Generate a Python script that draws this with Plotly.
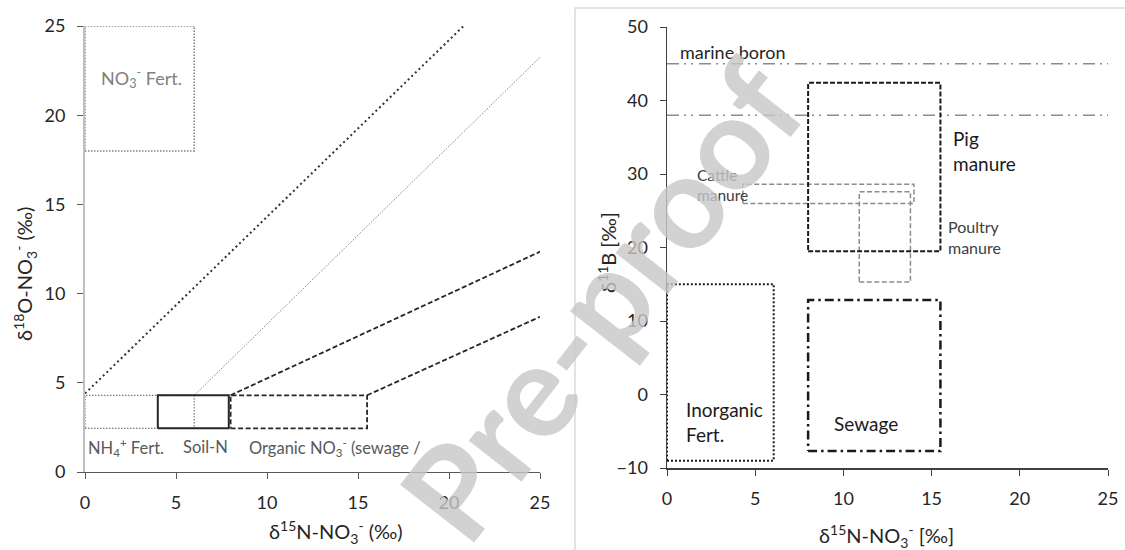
import plotly.graph_objects as go

# ---------------- data ----------------
# Left panel: nitrate source boxes  (d15N range, d18O range)
no3_fert_n = [0, 6];      no3_fert_o = [18, 25]
nh4_fert_n = [0, 6];      nh4_fert_o = [2.45, 4.3]
soil_n_n = [4, 7.9];      soil_n_o = [2.45, 4.3]
organic_n = [8, 15.5];    organic_o = [2.45, 4.3]
# trend lines (start / end points)
line1_n = [0, 20.8];   line1_o = [4.4, 25]
line2_n = [6, 25];     line2_o = [4.3, 23.25]
line3_n = [8, 25];     line3_o = [4.3, 12.35]
line4_n = [15.5, 25];  line4_o = [4.3, 8.7]

# Right panel: boron source boxes (d15N range, d11B range)
marine_boron_b = [45, 38]
marine_boron_n = [0, 25]
pig_n = [8, 15.5];        pig_b = [19.5, 42.4]
cattle_n = [4.3, 14];     cattle_b = [26, 28.6]
poultry_n = [10.9, 13.8]; poultry_b = [15.3, 27.6]
inorg_n = [0, 6.05];      inorg_b = [-9, 15]
sewage_n = [8, 15.5];     sewage_b = [-7.7, 12.85]

left_ticks = [0, 5, 10, 15, 20, 25]
right_xticks = [0, 5, 10, 15, 20, 25]
right_yticks = [-10, 0, 10, 20, 30, 40, 50]

FONT = "Lato"
W, H = 1125, 550


def rect(xr, yr):
    x0, x1 = xr
    y0, y1 = yr
    return [x0, x1, x1, x0, x0], [y0, y0, y1, y1, y0]


fig = go.Figure()


def add_poly(xs, ys, color, width, dash, ax="x", ay="y"):
    fig.add_trace(go.Scatter(x=xs, y=ys, mode="lines", xaxis=ax, yaxis=ay,
                             line=dict(color=color, width=width, dash=dash),
                             hoverinfo="skip", showlegend=False))


# ---- left panel ----
add_poly(*rect(no3_fert_n, no3_fert_o), "#7f7f7f", 1.5, "1.5px,1.5px")
add_poly(*rect(nh4_fert_n, nh4_fert_o), "#7a7a7a", 1.2, "1.5px,1.5px")
add_poly(line1_n, line1_o, "#333333", 2, "2px,3px")
add_poly(line2_n, line2_o, "#666666", 1, "1px,1.5px")
add_poly(line3_n, line3_o, "#262626", 1.8, "5px,2.5px")
add_poly(line4_n, line4_o, "#262626", 1.8, "5px,2.5px")
add_poly(*rect(soil_n_n, soil_n_o), "#262626", 2, "solid")
add_poly(*rect(organic_n, organic_o), "#262626", 1.8, "5px,2.5px")

# ---- right panel ----
for b in marine_boron_b:
    add_poly(marine_boron_n, [b, b], "#8c8c8c", 1.5,
             "12px,5px,2px,5px,2px,6px", "x2", "y2")
add_poly(*rect(cattle_n, cattle_b), "#8c8c8c", 1.5, "5px,2.5px", "x2", "y2")
add_poly(*rect(poultry_n, poultry_b), "#8c8c8c", 1.5, "5px,2.5px", "x2", "y2")
add_poly(*rect(pig_n, pig_b), "#1a1a1a", 2, "5px,2px", "x2", "y2")
add_poly(*rect(inorg_n, inorg_b), "#1a1a1a", 2, "2px,2px", "x2", "y2")
add_poly(*rect(sewage_n, sewage_b), "#1a1a1a", 2.5, "9px,4px,2.5px,4px", "x2", "y2")

tickfont = dict(family=FONT, size=18, color="#262626")

fig.update_layout(
    width=W, height=H,
    margin=dict(l=0, r=0, t=0, b=0),
    paper_bgcolor="white", plot_bgcolor="white",
    font=dict(family=FONT, color="#333333"),
    xaxis=dict(domain=[85 / W, 540 / W], range=[0, 25], tickvals=left_ticks,
               showgrid=False, zeroline=False, showline=True,
               linecolor="#595959", linewidth=1, ticks="outside", ticklen=6,
               tickcolor="#595959", tickfont=tickfont, ticklabelstandoff=8,
               anchor="y", automargin=False, fixedrange=True),
    yaxis=dict(domain=[1 - 472 / H, 1 - 26 / H], range=[0, 25], tickvals=left_ticks,
               showgrid=False, zeroline=False, showline=True,
               linecolor="#bfbfbf", linewidth=2, ticks="outside", ticklen=6,
               tickcolor="#595959", tickfont=tickfont, ticklabelstandoff=8,
               anchor="x", automargin=False, fixedrange=True),
    xaxis2=dict(domain=[667 / W, 1108 / W], range=[0, 25], tickvals=right_xticks,
                showgrid=False, zeroline=False, showline=True,
                linecolor="#404040", linewidth=1.5, ticks="outside", ticklen=6,
                tickcolor="#404040", tickfont=tickfont, ticklabelstandoff=8,
                anchor="y2", automargin=False, fixedrange=True),
    yaxis2=dict(domain=[1 - 468 / H, 1 - 27 / H], range=[-10, 50], tickvals=right_yticks,
                showgrid=False, zeroline=False, showline=True,
                linecolor="#404040", linewidth=1.5, ticks="outside", ticklen=6,
                tickcolor="#404040", tickfont=tickfont, ticklabelstandoff=8,
                anchor="x2", automargin=False, fixedrange=True),
)

# frame around right panel
fig.add_shape(type="rect", xref="paper", yref="paper",
              x0=575 / W, x1=1.02, y0=-0.02, y1=1 - 8 / H,
              line=dict(color="#dadada", width=1.5), layer="below")


def label(text, x, y, size, color, ax="x", ay="y", anchor="left"):
    fig.add_annotation(text=text, x=x, y=y, xref=ax, yref=ay, showarrow=False,
                       xanchor=anchor, yanchor="middle", align="left",
                       font=dict(family=FONT, size=size, color=color))


# left labels
label("NO<sub>3</sub><sup>-</sup> Fert.", 0.75, 22.1, 18, "#808080")
label("NH<sub>4</sub><sup>+</sup> Fert.", 0.05, 1.4, 16.5, "#595959")
label("Soil-N", 5.3, 1.4, 16.5, "#595959")
label("Organic NO<sub>3</sub><sup>-</sup> (sewage /", 8.9, 1.4, 16.5, "#595959")

# right labels
label("marine boron", 0.65, 46.6, 18, "#262626", "x2", "y2")
label("Pig<br>manure", 16.1, 33.1, 19, "#1a1a1a", "x2", "y2")
label("Cattle<br>manure", 1.6, 28.55, 15.5, "#404040", "x2", "y2")
label("Poultry<br>manure", 15.8, 21.4, 16, "#404040", "x2", "y2")
label("Inorganic<br>Fert.", 0.95, -3.8, 19, "#1a1a1a", "x2", "y2")
label("Sewage", 9.35, -3.9, 19, "#1a1a1a", "x2", "y2")


# axis titles
def title(text, x, y, angle=0):
    fig.add_annotation(text=text, x=x, y=y, xref="paper", yref="paper",
                       showarrow=False, xanchor="center", yanchor="middle",
                       textangle=angle,
                       font=dict(family=FONT, size=20, color="#262626"))


title("δ<sup>15</sup>N-NO<sub>3</sub><sup>-</sup> (‰)", 336 / W, 1 - 532 / H)
title("δ<sup>18</sup>O-NO<sub>3</sub><sup>-</sup> (‰)", 25 / W, 1 - 274 / H, -90)
title("δ<sup>15</sup>N-NO<sub>3</sub><sup>-</sup> [‰]", 886 / W, 1 - 536 / H)
title("δ<sup>11</sup>B [‰]", 607 / W, 1 - 253 / H, -90)

# watermark
fig.add_annotation(text="<b>Pre-proof</b>", x=600 / W, y=1 - 300 / H,
                   xref="paper", yref="paper", showarrow=False,
                   xanchor="center", yanchor="middle", textangle=-52,
                   opacity=0.8,
                   font=dict(family=FONT, size=130, color="#c8c8c8"))

fig.write_html("out.html",
               config={"displayModeBar": False, "staticPlot": True},
               post_script="document.body.style.margin='0';"
                           "document.body.style.overflow='hidden';")
